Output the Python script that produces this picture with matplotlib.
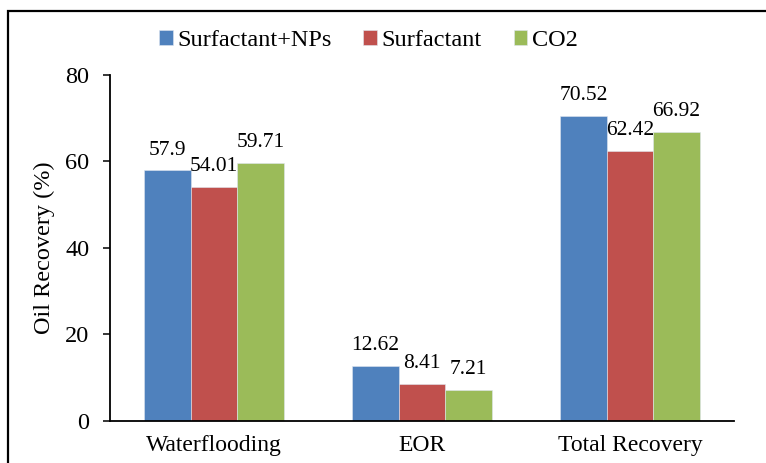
import numpy as np
import matplotlib.pyplot as plt
from matplotlib.patches import Rectangle

plt.rcParams['font.family'] = ['Liberation Serif', 'DejaVu Serif']

# recovery values per stage
categories = ['Waterflooding', 'EOR', 'Total Recovery']
series_names = ['Surfactant+NPs', 'Surfactant', 'CO2']
surf_nps = [57.9, 12.62, 70.52]
surfactant = [54.01, 8.41, 62.42]
co2 = [59.71, 7.21, 66.92]
colors = ['#4F81BD', '#C0504D', '#9BBB59']

fig = plt.figure(figsize=(7.66, 4.63), dpi=100)
ax = fig.add_axes([0.1436, 0.0914, 0.8146, 0.7466])

x = np.arange(len(categories))
width = 0.223
for i, (vals, name, c) in enumerate(zip([surf_nps, surfactant, co2], series_names, colors)):
    pos = x + (i - 1) * width
    bars = ax.bar(pos, vals, width, color=c, label=name, edgecolor='#dfe6f0', linewidth=0.4)
    for b, v in zip(bars, vals):
        ax.annotate(f'{v:g}', (b.get_x() + b.get_width() / 2, v),
                    xytext=(0, 11.5), textcoords='offset points',
                    ha='center', va='baseline', fontsize=15.5)

ax.set_xlim(-0.5, 2.5)
ax.set_ylim(0, 80)
ax.set_yticks([0, 20, 40, 60, 80])
ax.set_xticks(x)
ax.set_xticklabels(categories)
ax.tick_params(axis='x', length=0, labelsize=17, pad=10)
ax.tick_params(axis='y', length=5, width=1.1, labelsize=17.5, pad=10)
ax.spines['top'].set_visible(False)
ax.spines['right'].set_visible(False)
for s in ('left', 'bottom'):
    ax.spines[s].set_linewidth(1.3)
ax.set_ylabel('Oil Recovery (%)', fontsize=17.5, labelpad=7)

fig.legend(loc='center', bbox_to_anchor=(0.481, 0.912), ncol=3, frameon=False,
           fontsize=17.5, handlelength=0.55, handleheight=0.55, handletextpad=0.2,
           columnspacing=1.3)

# outer frame, cut off on the right and bottom
fig.patches.append(Rectangle((0.0105, -0.2), 1.5, 0.2 + 0.976, transform=fig.transFigure,
                             fill=False, edgecolor='black', linewidth=1.6))

fig.savefig('out.png', dpi=100)
